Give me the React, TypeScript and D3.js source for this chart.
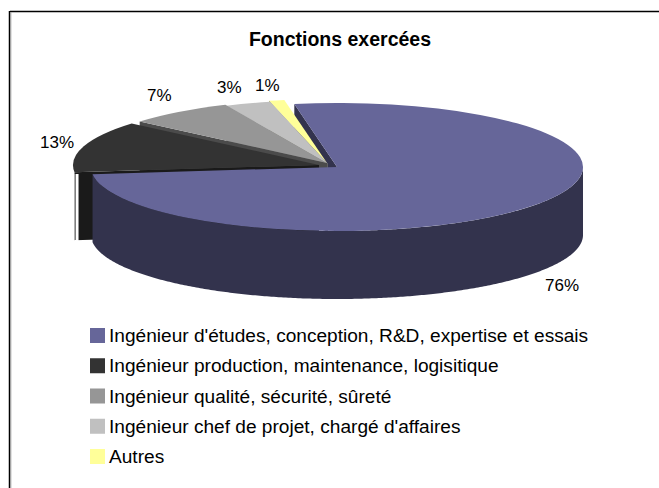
import * as d3 from 'd3';

const categories = [
  "Ingénieur d'études, conception, R&D, expertise et essais",
  'Ingénieur production, maintenance, logisitique',
  'Ingénieur qualité, sécurité, sûreté',
  "Ingénieur chef de projet, chargé d'affaires",
  'Autres',
];
const percents = [76, 13, 7, 3, 1];
const colors = ['#666699', '#333333', '#969696', '#C0C0C0', '#FFFF99'];
const wallColors = ['#33334D', '#1A1A1A', '#4B4B4B', '#606060', '#80804D'];

// how far each slice is pulled off the pie, in px
const offsets = [[0, 0], [-18, -2], [-10, -4], [-9, -3], [-10, -4]];
const labelPos = [[545, 291], [40, 148], [147, 101], [217, 93], [255, 91]];

const width = 659;
const height = 488;
const cx = 337;
const cy = 167;
const rx = 246;
const ry = 64;
const depth = 68;
const k = ry / rx;
const startAngle = (-10 * Math.PI) / 180;

const pie = d3
  .pie<number>()
  .sort(null)
  .startAngle(startAngle)
  .endAngle(startAngle + 2 * Math.PI);
const arcs = pie(percents);
const arc = d3.arc<d3.PieArcDatum<number>>().innerRadius(0).outerRadius(rx);

const px = (a: number) => rx * Math.sin(a);
const py = (a: number) => -ry * Math.cos(a);

// outer rim of a slice, only the part facing us
const rimPath = (a0: number, a1: number) => {
  const angles = d3.range(a0, a1, 0.01).concat(a1);
  return d3
    .area<number>()
    .x(px)
    .y0(py)
    .y1(a => py(a) + depth)(angles);
};

// side wall along a radius
const edgePath = (a: number) =>
  `M0,0L${px(a)},${py(a)}L${px(a)},${py(a) + depth}L0,${depth}Z`;

const legendY = d3
  .scalePoint<number>()
  .domain(d3.range(categories.length))
  .range([328, 449]);

export default function App() {
  const darkTip = cx + offsets[1][0] + px(arcs[1].startAngle);
  return (
    <svg
      width={width}
      height={height}
      style={{ position: 'absolute', left: 0, top: 0, background: '#fff' }}
      fontFamily="Liberation Sans, Arial, sans-serif"
    >
      {/* frame: only top and left show in the crop */}
      <line x1={10} x2={width} y1={11.5} y2={11.5} stroke="#000" strokeWidth={1.5} />
      <line x1={9.5} x2={9.5} y1={11} y2={height} stroke="#000" strokeWidth={1.5} />
      <line x1={10.8} x2={10.8} y1={12} y2={height} stroke="#999" />

      <text x={340} y={46} textAnchor="middle" fontSize={19.5} fontWeight="bold" fill="#000">
        Fonctions exercées
      </text>

      {/* big slice wall first, the others sit on top */}
      <g transform={`translate(${cx},${cy})`}>
        <path d={edgePath(arcs[0].startAngle)} fill={wallColors[0]} />
      </g>

      {arcs.slice(1).reverse().map((d, ri) => {
        const i = arcs.length - 1 - ri;
        const [dx, dy] = offsets[i];
        return (
          <g key={i} transform={`translate(${cx + dx},${cy + dy})`}>
            <path d={edgePath(d.startAngle)} fill={wallColors[i]} />
            <path d={arc(d) ?? ''} transform={`scale(1,${k})`} fill={colors[i]} />
          </g>
        );
      })}

      {/* white sliver and thin line left of the dark wall */}
      <rect x={darkTip} y={cy + 7} width={4} height={70} fill="#fff" />
      <line x1={darkTip + 0.8} x2={darkTip + 0.8} y1={cy + 7} y2={cy + 73} stroke="#777" strokeWidth={1.2} />

      <g transform={`translate(${cx},${cy})`}>
        <path d={rimPath(Math.PI / 2, arcs[0].endAngle) ?? ''} fill={wallColors[0]} />
        <path d={arc(arcs[0]) ?? ''} transform={`scale(1,${k})`} fill={colors[0]} />
      </g>

      {percents.map((p, i) => (
        <text key={i} x={labelPos[i][0]} y={labelPos[i][1]} fontSize={17} fill="#000">
          {p}%
        </text>
      ))}

      {categories.map((c, i) => (
        <g key={i} transform={`translate(90,${legendY(i)})`}>
          <rect x={0} y={0} width={15} height={15} fill={colors[i]} />
          <text x={19} y={14} fontSize={19.1} fill="#000">
            {c}
          </text>
        </g>
      ))}
    </svg>
  );
}
